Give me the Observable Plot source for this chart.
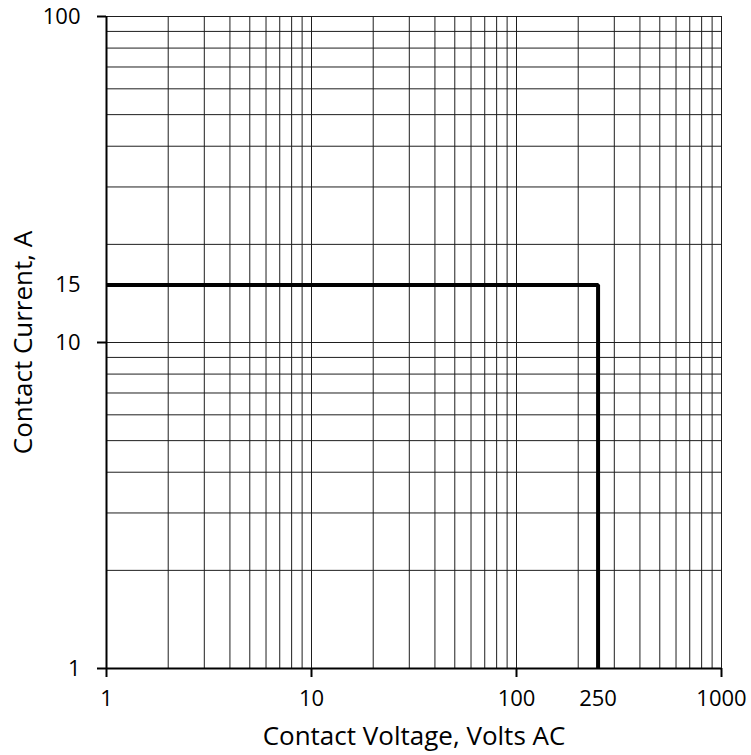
<!DOCTYPE html>
<html>
<head>
<meta charset="utf-8">
<script src="https://cdn.jsdelivr.net/npm/d3@7"></script>
<script src="https://cdn.jsdelivr.net/npm/@observablehq/plot@0.6"></script>
<style>
  html, body { margin: 0; padding: 0; background: #fff; }
</style>
</head>
<body>
<div id="chart"></div>
<script>
const gridX = [1,2,3,4,5,6,7,8,9,10,20,30,40,50,60,70,80,90,100,200,300,400,500,600,700,800,900,1000];
const gridY = [1,2,3,4,5,6,7,8,9,10,20,30,40,50,60,70,80,90,100];
const majorX = [1,10,100,1000];
const labelX = [1,10,100,250,1000];
const majorY = [1,10,100];
const labelY = [1,10,15,100];
const voltage = [1,250,250];
const current = [15,15,1];
const xTitle = "Contact Voltage, Volts AC";
const yTitle = "Contact Current, A";

const limit = voltage.map((v, i) => ({v, c: current[i]}));

const chart = Plot.plot({
  width: 751,
  height: 755,
  marginLeft: 106,
  marginRight: 30,
  marginTop: 16,
  marginBottom: 87,
  x: {type: "log", domain: [1, 1000]},
  y: {type: "log", domain: [1, 100]},
  style: {fontFamily: "'Open Sans', sans-serif", fontSize: "22px", color: "#000", background: "#fff"},
  marks: [
    Plot.ruleX(gridX, {stroke: "#1e1e1e", strokeWidth: 1}),
    Plot.ruleY(gridY, {stroke: "#1e1e1e", strokeWidth: 1}),
    Plot.axisX({ticks: majorX, tickSize: 9, tickFormat: () => "", label: null, strokeWidth: 2}),
    Plot.axisY({ticks: majorY, tickSize: 9, tickFormat: () => "", label: null, strokeWidth: 2}),
    Plot.axisX({ticks: labelX, tickSize: 0, tickPadding: 22, tickFormat: d => String(d), label: null, fontSize: 22}),
    Plot.axisY({ticks: labelY, tickSize: 0, tickPadding: 26, tickFormat: d => String(d), label: null, fontSize: 22}),
    Plot.ruleX([1], {stroke: "#000", strokeWidth: 2}),
    Plot.ruleY([1], {stroke: "#000", strokeWidth: 2}),
    Plot.line(limit, {x: "v", y: "c", stroke: "#000", strokeWidth: 4, strokeLinejoin: "miter", strokeLinecap: "butt"}),
    Plot.text([xTitle], {text: d => d, frameAnchor: "bottom", textAnchor: "middle", lineAnchor: "middle", dy: 68, fontSize: 26}),
    Plot.text([yTitle], {text: d => d, frameAnchor: "left", textAnchor: "middle", lineAnchor: "middle", rotate: -90, dx: -83, fontSize: 26})
  ]
});
document.getElementById("chart").appendChild(chart);
</script>
</body>
</html>
